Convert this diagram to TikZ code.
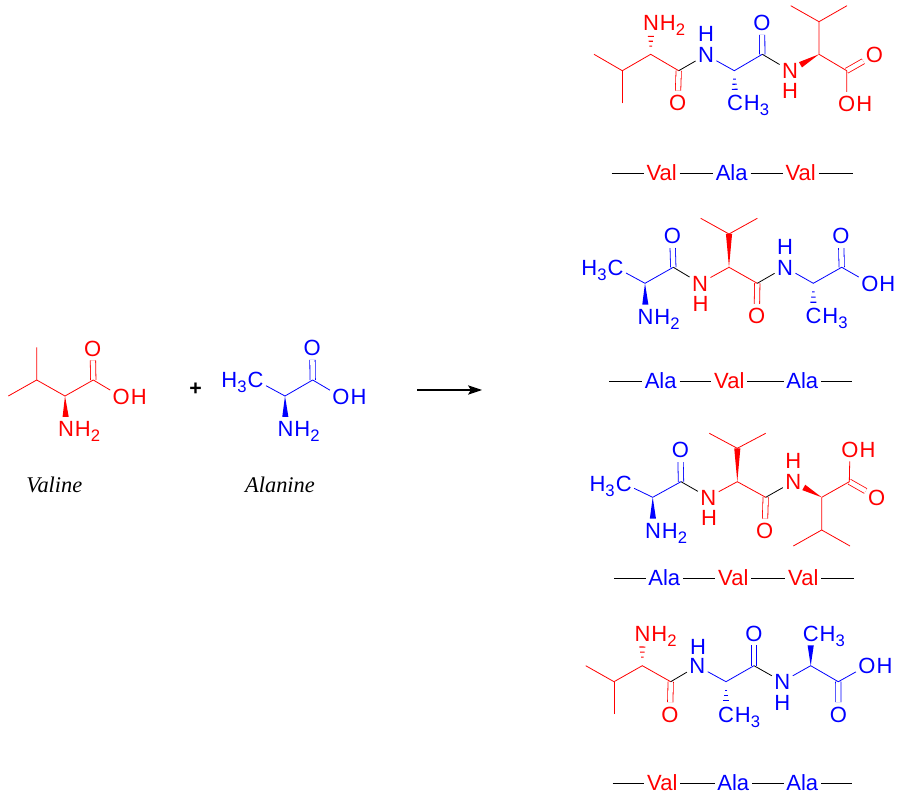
\documentclass[tikz,border=0pt]{standalone}
\usepackage{fontspec}
\setmainfont{Liberation Sans}
\newfontfamily\namefont{Liberation Serif}
\usetikzlibrary{arrows.meta,calc}

\newcommand{\sbs}[1]{\raisebox{-3.8pt}{\fontsize{12.5}{12.5}\selectfont #1}}
\newcommand{\wedgeb}[3]{%
  \path (#2) -- (#3) coordinate[pos=1] (wtip);
  \fill[#1] (#2) -- ($(wtip)!2.3pt!90:(#2)$) -- ($(wtip)!2.3pt!-90:(#2)$) -- cycle;}
\newcommand{\hashb}[3]{%
  \path (#2) -- (#3) coordinate[pos=1] (wtip);
  \foreach \t in {0.42,0.67,0.92} {
    \pgfmathsetlengthmacro{\hw}{\t*2.4pt}
    \coordinate (hmid) at ($(#2)!\t!(wtip)$);
    \draw[#1,line width=0.8pt] ($(hmid)!\hw!90:(#2)$) -- ($(hmid)!\hw!-90:(#2)$);
  }}

\tikzset{every picture/.style={line width=0.75pt}}
\tikzset{
  atom/.style={font=\fontsize{16.5}{18}\selectfont,text height=11.8pt,text depth=0pt,inner xsep=1.5pt,inner ysep=2.8pt},
  ra/.style={atom,text=red},
  ba/.style={atom,text=blue},
  rh/.style={ra,inner ysep=0pt},
  bh/.style={ba,inner ysep=0pt},
  tailnode/.style={font=\fontsize{16.5}{18}\selectfont,text height=11.8pt,text depth=0pt,inner sep=0pt},
  tailr/.style 2 args={label={[tailnode,text=#1,anchor=west,xshift=-1.5pt]east:#2}},
  taill/.style 2 args={label={[tailnode,text=#1,anchor=east,xshift=1.5pt]west:#2}},
  rb/.style={red,line width=0.6pt},
  bb/.style={blue,line width=0.6pt},
  kb/.style={black,line width=0.6pt},
  rdb/.style={rb,double,double distance=3.4pt},
  bdb/.style={bb,double,double distance=3.4pt},
  seq/.style={font=\fontsize{16.5}{18}\selectfont,text height=10.5pt,text depth=0pt,inner xsep=1.8pt,inner ysep=0pt},
  vres/.style={seq,text=red},
  ares/.style={seq,text=blue},
  aminame/.style={font=\namefont\itshape\fontsize{16.8}{18}\selectfont,inner sep=0pt}
}

\begin{document}
\begin{tikzpicture}[x=0.75pt,y=0.75pt,yscale=-1,xscale=1]
\useasboundingbox (0,0) rectangle (900,798);

% Valine
\coordinate (vm1) at (36.7,347.3);
\coordinate (vm2) at (8.3,396);
\coordinate (vb) at (36.7,380);
\coordinate (vca) at (65,396);
\coordinate (vc) at (93.3,380);
\node[ra] (vo) at (92.7,348.3) {O};
\node[ra,tailr={red}{H}] (voh) at (121.3,396.7) {O};
\node[ra,tailr={red}{H\sbs{2}}] (vn) at (66,429) {N};
\draw[rdb] (vc) -- (vo);
\draw[rb] (vm1) -- (vb) -- (vca) -- (vc) -- (voh);
\draw[rb] (vm2) -- (vb);
\wedgeb{red}{vca}{vn}
\node[aminame] (vname) at (54.3,485) {Valine};

% Plus and reaction arrow
\node[font=\fontsize{16}{18}\selectfont\bfseries,inner sep=0pt] (plus) at (195.7,389.5) {+};
\coordinate (arrs) at (417,390);
\coordinate (arre) at (482,390);
\draw[-{Stealth[length=10.5pt,width=7pt,inset=2.2pt]},line width=0.8pt] (arrs) -- (arre);

% Alanine
\node[ba,taill={blue}{H\sbs{3}}] (lch) at (255.5,380) {C};
\coordinate (lca) at (285,396);
\coordinate (lc) at (312.7,380);
\node[ba] (lo) at (312.3,347.7) {O};
\node[ba,tailr={blue}{H}] (loh) at (341,396.7) {O};
\node[ba,tailr={blue}{H\sbs{2}}] (ln) at (285.5,429) {N};
\draw[bdb] (lc) -- (lo);
\draw[bb] (lch) -- (lca) -- (lc) -- (loh);
\wedgeb{blue}{lca}{ln}
\node[aminame] (lname) at (280,485) {Alanine};

% Val-Ala-Val
\coordinate (am1) at (594,54.3);
\coordinate (ab1) at (622.3,70.7);
\coordinate (am2) at (622.3,103.3);
\coordinate (aca1) at (650.7,54.3);
\coordinate (ac1) at (678.7,70.7);
\coordinate (aca2) at (734.3,70.7);
\coordinate (ac2) at (762.3,54.3);
\coordinate (aca3) at (819,54.3);
\coordinate (ab3) at (819,21.7);
\coordinate (am3) at (790.7,5.7);
\coordinate (am4) at (847,5.7);
\coordinate (ac3) at (846.7,70.7);
\node[ra,tailr={red}{H\sbs{2}}] (an1) at (651,22.7) {N};
\node[ra] (ao1) at (677.7,102.7) {O};
\node[ba] (an2) at (706,55) {N};
\node[bh] (ah2) at (706,34) {H};
\node[ba,tailr={blue}{H\sbs{3}}] (ach2) at (735,103) {C};
\node[ba] (ao2) at (762,22.7) {O};
\node[ra] (an3) at (790,70.7) {N};
\node[rh] (ah3) at (790,90.7) {H};
\node[ra] (ao3) at (874.3,55) {O};
\node[ra,tailr={red}{H}] (aoh) at (846.7,104) {O};
\draw[rdb] (ac1) -- (ao1);
\draw[bdb] (ac2) -- (ao2);
\draw[rdb] (ac3) -- (ao3);
\draw[rb] (am1) -- (ab1) -- (aca1) -- (ac1);
\draw[rb] (am2) -- (ab1);
\draw[kb] (ac1) -- (an2);
\draw[bb] (an2) -- (aca2) -- (ac2);
\draw[kb] (ac2) -- (an3);
\draw[rb] (am3) -- (ab3) -- (am4);
\draw[rb] (ab3) -- (aca3) -- (ac3) -- (aoh);
\hashb{red}{aca1}{an1}
\hashb{blue}{aca2}{ach2}
\wedgeb{red}{aca3}{an3}
% sequence
\coordinate (asl) at (611.7,173.3);
\coordinate (asr) at (853.3,173.3);
\node[vres] (as1) at (661.7,173.3) {Val};
\node[ares] (as2) at (731.7,173.3) {Ala};
\node[vres] (as3) at (800.7,173.3) {Val};
\draw (asl) -- (as1);
\draw (as1) -- (as2);
\draw (as2) -- (as3);
\draw (as3) -- (asr);

% Ala-Val-Ala
\node[ba,taill={blue}{H\sbs{3}}] (bch1) at (615.5,267.3) {C};
\coordinate (bca1) at (645,283.3);
\coordinate (bc1) at (673.3,267.3);
\coordinate (bca2) at (729,267.3);
\coordinate (bb2) at (729,234);
\coordinate (bm1) at (700.7,218.3);
\coordinate (bm2) at (757.3,218.3);
\coordinate (bc2) at (757.3,283.3);
\coordinate (bca3) at (813.3,283.3);
\coordinate (bc3) at (841.7,267.3);
\node[ba,tailr={blue}{H\sbs{2}}] (bn1) at (645.5,316.7) {N};
\node[ba] (bo1) at (672.3,236) {O};
\node[ra] (bn2) at (700,283.3) {N};
\node[rh] (bh2) at (700.5,304) {H};
\node[ra] (bo2) at (756.7,316) {O};
\node[ba] (bn3) at (785,267.3) {N};
\node[bh] (bh3) at (785,246.7) {H};
\node[ba,tailr={blue}{H\sbs{3}}] (bch3) at (813.5,316) {C};
\node[ba] (bo3) at (841,236) {O};
\node[ba,tailr={blue}{H}] (boh) at (869.8,283.3) {O};
\draw[bdb] (bc1) -- (bo1);
\draw[rdb] (bc2) -- (bo2);
\draw[bdb] (bc3) -- (bo3);
\draw[bb] (bch1) -- (bca1) -- (bc1);
\draw[kb] (bc1) -- (bn2);
\draw[rb] (bn2) -- (bca2) -- (bc2);
\draw[rb] (bm1) -- (bb2) -- (bm2);
\draw[kb] (bc2) -- (bn3);
\draw[bb] (bn3) -- (bca3) -- (bc3) -- (boh);
\wedgeb{blue}{bca1}{bn1}
\wedgeb{red}{bca2}{bb2}
\hashb{blue}{bca3}{bch3}
% sequence
\coordinate (bsl) at (609.3,381.7);
\coordinate (bsr) at (851.7,381.7);
\node[ares] (bs1) at (660.7,381.7) {Ala};
\node[vres] (bs2) at (729.3,381.7) {Val};
\node[ares] (bs3) at (802.3,381.7) {Ala};
\draw (bsl) -- (bs1);
\draw (bs1) -- (bs2);
\draw (bs2) -- (bs3);
\draw (bs3) -- (bsr);

% Ala-Val-Val
\node[ba,taill={blue}{H\sbs{3}}] (cch1) at (623.7,483.3) {C};
\coordinate (cca1) at (652.7,497.3);
\coordinate (cc1) at (681,481.7);
\coordinate (cca2) at (737.3,481.7);
\coordinate (cb2) at (737.3,448.3);
\coordinate (cm1) at (709.3,433.3);
\coordinate (cm2) at (765.7,433.3);
\coordinate (cc2) at (765.7,497.3);
\coordinate (cca3) at (821.7,497.3);
\coordinate (cc3) at (849.3,481.7);
\coordinate (cb3) at (821.7,530);
\coordinate (cm3) at (793.3,546);
\coordinate (cm4) at (850,546);
\node[ba,tailr={blue}{H\sbs{2}}] (cn1) at (653,530.7) {N};
\node[ba] (co1) at (680.3,450) {O};
\node[ra] (cn2) at (708.3,497.3) {N};
\node[rh] (ch2) at (709,517.3) {H};
\node[ra] (co2) at (764.7,530.7) {O};
\node[ra] (cn3) at (793.3,481.7) {N};
\node[rh] (ch3) at (793.3,461) {H};
\node[ra,tailr={red}{H}] (coh) at (850,449.3) {O};
\node[ra] (co3) at (876.7,497.3) {O};
\draw[bdb] (cc1) -- (co1);
\draw[rdb] (cc2) -- (co2);
\draw[rdb] (cc3) -- (co3);
\draw[bb] (cch1) -- (cca1) -- (cc1);
\draw[kb] (cc1) -- (cn2);
\draw[rb] (cn2) -- (cca2) -- (cc2);
\draw[rb] (cm1) -- (cb2) -- (cm2);
\draw[kb] (cc2) -- (cn3);
\draw[rb] (cca3) -- (cc3) -- (coh);
\draw[rb] (cca3) -- (cb3) -- (cm3);
\draw[rb] (cb3) -- (cm4);
\wedgeb{blue}{cca1}{cn1}
\wedgeb{red}{cca2}{cb2}
\wedgeb{red}{cca3}{cn3}
% sequence
\coordinate (csl) at (614,578.3);
\coordinate (csr) at (854.3,578.3);
\node[ares] (cs1) at (664.3,578.3) {Ala};
\node[vres] (cs2) at (733.3,578.3) {Val};
\node[vres] (cs3) at (803.3,578.3) {Val};
\draw (csl) -- (cs1);
\draw (cs1) -- (cs2);
\draw (cs2) -- (cs3);
\draw (cs3) -- (csr);

% Val-Ala-Ala
\coordinate (dm1) at (585.7,665.7);
\coordinate (db1) at (614,681.7);
\coordinate (dm2) at (614,714);
\coordinate (dca1) at (642.3,665.7);
\coordinate (dc1) at (670.7,681.7);
\coordinate (dca2) at (726,681.7);
\coordinate (dc2) at (754,665.7);
\coordinate (dca3) at (810.7,665.7);
\coordinate (dc3) at (838.3,681.7);
\node[ra,tailr={red}{H\sbs{2}}] (dn1) at (642.5,633.3) {N};
\node[ra] (do1) at (670,714.3) {O};
\node[ba] (dn2) at (697.3,666) {N};
\node[bh] (dh2) at (698,646.3) {H};
\node[ba,tailr={blue}{H\sbs{3}}] (dch2) at (726,714.3) {C};
\node[ba] (do2) at (754,633.3) {O};
\node[ba] (dn3) at (782.3,681.7) {N};
\node[bh] (dh3) at (782.3,702.3) {H};
\node[ba,tailr={blue}{H\sbs{3}}] (dch3) at (810.7,633.3) {C};
\node[ba] (do3) at (838.5,714.3) {O};
\node[ba,tailr={blue}{H}] (doh) at (867,665.7) {O};
\draw[rdb] (dc1) -- (do1);
\draw[bdb] (dc2) -- (do2);
\draw[bdb] (dc3) -- (do3);
\draw[rb] (dm1) -- (db1) -- (dca1) -- (dc1);
\draw[rb] (dm2) -- (db1);
\draw[kb] (dc1) -- (dn2);
\draw[bb] (dn2) -- (dca2) -- (dc2);
\draw[kb] (dc2) -- (dn3);
\draw[bb] (dn3) -- (dca3) -- (dc3) -- (doh);
\hashb{red}{dca1}{dn1}
\hashb{blue}{dca2}{dch2}
\wedgeb{blue}{dca3}{dch3}
% sequence
\coordinate (dsl) at (612.7,783.3);
\coordinate (dsr) at (852.3,783.3);
\node[vres] (ds1) at (662.3,783.3) {Val};
\node[ares] (ds2) at (733.3,783.3) {Ala};
\node[ares] (ds3) at (802.3,783.3) {Ala};
\draw (dsl) -- (ds1);
\draw (ds1) -- (ds2);
\draw (ds2) -- (ds3);
\draw (ds3) -- (dsr);

\end{tikzpicture}
\end{document}
